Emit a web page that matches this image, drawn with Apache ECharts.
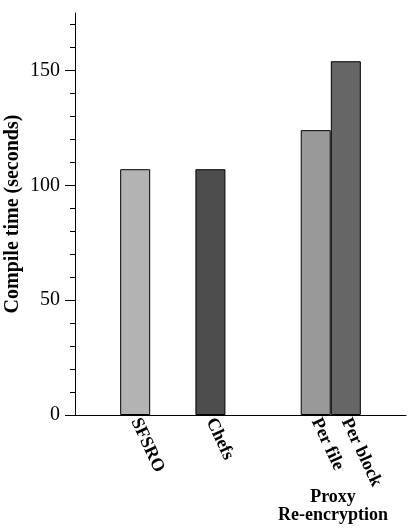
<!DOCTYPE html>
<html>
<head>
<meta charset="utf-8">
<script src="https://cdn.jsdelivr.net/npm/echarts@6/dist/echarts.min.js"></script>
<style>
  html, body { margin: 0; padding: 0; background: #fff; }
  #main { width: 412px; height: 528px; }
</style>
</head>
<body>
<div id="main"></div>
<script>
// bar names and where they sit on the x scale
const categories = ['SFSRO', 'Chefs', 'Per file', 'Per block']
const slots = [4, 9, 16, 18]
const compileTime = [107, 107, 124, 154]
const groupLabel = 'Proxy\nRe-encryption'

const yMajor = [0, 50, 100, 150]
const yMinor = [10, 20, 30, 40, 60, 70, 80, 90, 110, 120, 130, 140, 160, 170]

const fills = ['#b3b3b3', '#4d4d4d', '#999999', '#666666']
const serif = 'Liberation Serif'

const dom = echarts.init(document.getElementById('main'))
const option = {
  animation: false,
  textStyle: { fontFamily: serif },
  title: {
    text: groupLabel,
    left: 328,
    top: 483,
    textAlign: 'center',
    textStyle: { fontFamily: serif, fontWeight: 'bold', fontSize: 18, lineHeight: 18, color: '#000' }
  },
  grid: { left: 75, right: 6, top: 13, bottom: 113, outerBoundsMode: 'none' },
  xAxis: {
    type: 'value',
    min: 0,
    max: 22,
    splitLine: { show: false },
    axisLine: { lineStyle: { color: '#000', width: 1 } },
    axisTick: { show: false },
    axisLabel: {
      customValues: slots,
      formatter: (v) => categories[slots.indexOf(v)],
      rotate: -65,
      margin: 4,
      color: '#000',
      fontFamily: serif,
      fontWeight: 'bold',
      fontSize: 18
    }
  },
  yAxis: [
    {
      type: 'value',
      min: 0,
      max: 175,
      name: 'Compile time (seconds)',
      nameLocation: 'middle',
      nameGap: 52,
      nameMoveOverlap: false,
      nameTextStyle: { fontFamily: serif, fontWeight: 'bold', fontSize: 20, color: '#000' },
      splitLine: { show: false },
      axisLine: { show: true, lineStyle: { color: '#000', width: 1 } },
      axisTick: { show: true, length: 10, customValues: yMajor, lineStyle: { color: '#000' } },
      axisLabel: { customValues: yMajor, margin: 15, color: '#000', fontFamily: serif, fontSize: 20 }
    },
    {
      // minor ticks only
      type: 'value',
      position: 'left',
      min: 0,
      max: 175,
      splitLine: { show: false },
      axisLine: { show: false },
      axisTick: { show: true, length: 5, customValues: yMinor, lineStyle: { color: '#000' } },
      axisLabel: { show: false }
    }
  ],
  series: [
    {
      type: 'bar',
      barWidth: 30,
      data: compileTime.map((v, i) => ({
        value: [slots[i], v],
        itemStyle: { color: fills[i], borderColor: '#000', borderWidth: 1 }
      }))
    }
  ]
}
dom.setOption(option)
window.addEventListener('resize', () => dom.resize())
</script>
</body>
</html>
